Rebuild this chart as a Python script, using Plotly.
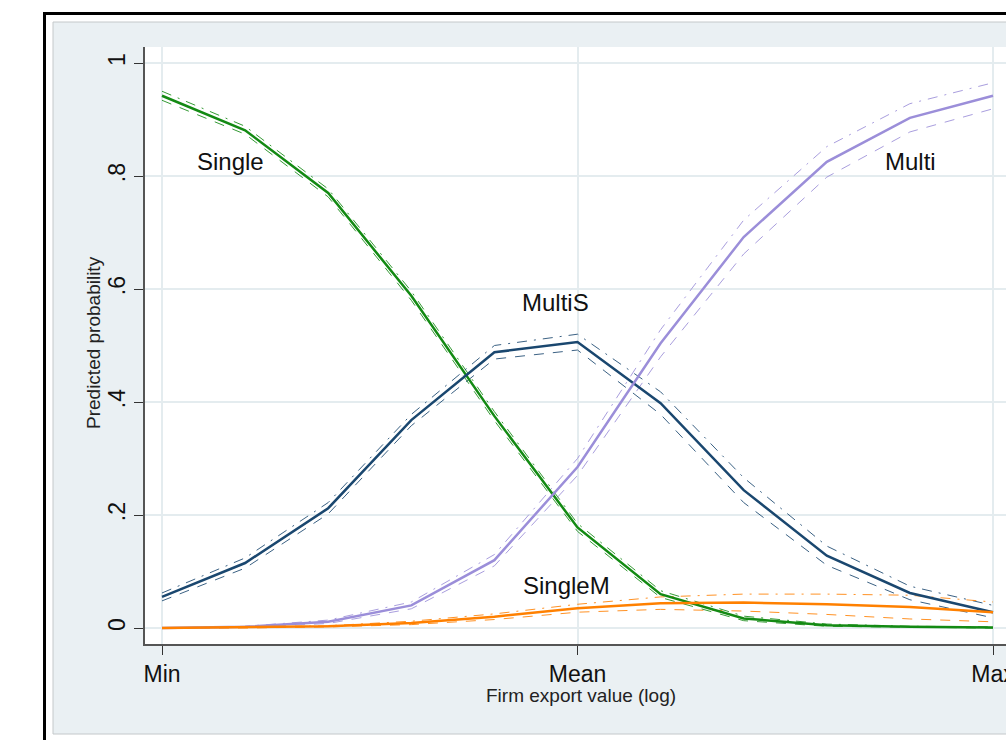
import plotly.graph_objects as go

# ---- data ----
x_vals = [0.0, 0.1, 0.2, 0.3, 0.4, 0.5, 0.6, 0.7, 0.8, 0.9, 1.0]
x_tick_vals = [0.0, 0.5, 1.0]
x_tick_text = ["Min", "Mean", "Max"]
y_tick_vals = [0, 0.2, 0.4, 0.6, 0.8, 1.0]
y_tick_text = ["0", ".2", ".4", ".6", ".8", "1"]

single = [0.942, 0.881, 0.770, 0.588, 0.375, 0.178, 0.060, 0.017, 0.005, 0.002, 0.001]
single_hi = [0.950, 0.888, 0.777, 0.596, 0.383, 0.185, 0.066, 0.021, 0.007, 0.003, 0.002]
single_lo = [0.934, 0.874, 0.763, 0.580, 0.367, 0.171, 0.054, 0.013, 0.003, 0.001, 0.000]

multis = [0.055, 0.115, 0.212, 0.368, 0.488, 0.506, 0.398, 0.244, 0.128, 0.062, 0.028]
multis_hi = [0.062, 0.124, 0.222, 0.378, 0.500, 0.520, 0.418, 0.266, 0.145, 0.074, 0.040]
multis_lo = [0.048, 0.106, 0.202, 0.358, 0.476, 0.492, 0.378, 0.222, 0.111, 0.050, 0.018]

multi = [0.000, 0.002, 0.011, 0.040, 0.120, 0.285, 0.504, 0.692, 0.825, 0.903, 0.942]
multi_hi = [0.000, 0.003, 0.014, 0.046, 0.130, 0.300, 0.528, 0.722, 0.852, 0.928, 0.965]
multi_lo = [0.000, 0.001, 0.008, 0.034, 0.110, 0.270, 0.480, 0.662, 0.798, 0.878, 0.919]

singlem = [0.000, 0.001, 0.003, 0.009, 0.020, 0.035, 0.044, 0.045, 0.042, 0.037, 0.028]
singlem_hi = [0.000, 0.001, 0.004, 0.012, 0.025, 0.042, 0.055, 0.060, 0.060, 0.058, 0.046]
singlem_lo = [0.000, 0.000, 0.002, 0.006, 0.015, 0.028, 0.033, 0.030, 0.024, 0.016, 0.011]

series = [
    ("Single", single, single_hi, single_lo, "#138a13"),
    ("MultiS", multis, multis_hi, multis_lo, "#1a476f"),
    ("Multi", multi, multi_hi, multi_lo, "#9b8ed9"),
    ("SingleM", singlem, singlem_hi, singlem_lo, "#ff8000"),
]

labels = [
    ("Single", 0.082, 0.826),
    ("Multi", 0.901, 0.826),
    ("MultiS", 0.473, 0.577),
    ("SingleM", 0.487, 0.076),
]

FONT = "Arial, Liberation Sans, sans-serif"

# ---- layout geometry (page pixels) ----
W, H = 1006, 740
L, T = 145, 47
B = H - 644
R = 0
pw, ph = W - L - R, H - T - B


def px(xp):
    return (xp - L) / pw


def py(yp):
    return (H - B - yp) / ph


fig = go.Figure()

for name, mid, hi, lo, col in series:
    fig.add_trace(go.Scatter(x=x_vals, y=hi, mode="lines", line=dict(color=col, width=1, dash="10px,7px,2px,7px"),
                             opacity=0.85, showlegend=False, hoverinfo="skip"))
    fig.add_trace(go.Scatter(x=x_vals, y=lo, mode="lines", line=dict(color=col, width=1, dash="10px,9px"),
                             opacity=0.85, showlegend=False, hoverinfo="skip"))
for name, mid, hi, lo, col in series:
    fig.add_trace(go.Scatter(x=x_vals, y=mid, mode="lines", line=dict(color=col, width=2.5),
                             name=name, showlegend=False))

for text, lx, ly in labels:
    fig.add_annotation(x=lx, y=ly, xref="x", yref="y", text=text, showarrow=False,
                       xanchor="center", yanchor="middle",
                       font=dict(size=24, color="#111111", family=FONT))

# axis titles
fig.add_annotation(x=px(581), y=py(695), xref="paper", yref="paper", text="Firm export value (log)",
                   xanchor="center", yanchor="middle", showarrow=False,
                   font=dict(size=19, color="#222222", family=FONT))
fig.add_annotation(x=px(93), y=py(343), xref="paper", yref="paper", text="Predicted probability",
                   xanchor="center", yanchor="middle", textangle=-90, showarrow=False,
                   font=dict(size=19, color="#222222", family=FONT))

# frame shapes: graph region (light), plot region (white), outer black border
fig.add_shape(type="rect", xref="paper", yref="paper", x0=px(53), x1=px(1200), y0=py(734), y1=py(22),
              fillcolor="#eaf0f3", line=dict(color="#c4c8ca", width=1), layer="below")
fig.add_shape(type="rect", xref="paper", yref="paper", x0=0, x1=px(1200), y0=0, y1=1,
              fillcolor="#ffffff", line=dict(width=0), layer="below")
fig.add_shape(type="rect", xref="paper", yref="paper", x0=px(44.5), x1=px(1200), y0=py(900), y1=py(13.5),
              fillcolor="rgba(0,0,0,0)", line=dict(color="#000000", width=3), layer="below")

fig.update_layout(
    width=W, height=H,
    margin=dict(l=L, r=R, t=T, b=B, pad=0, autoexpand=False),
    paper_bgcolor="white",
    plot_bgcolor="white",
    font=dict(family=FONT, color="#111111"),
    showlegend=False,
)

fig.update_xaxes(
    range=[(145 - 162) / 831, (1006 - 162) / 831],
    tickvals=x_tick_vals, ticktext=x_tick_text,
    tickfont=dict(size=23, color="#111111"),
    ticklabeloverflow="allow", automargin=False,
    ticks="outside", ticklen=9, tickcolor="#333333", tickwidth=1,
    showgrid=True, gridcolor="#e4ecef", gridwidth=2,
    showline=True, linecolor="#555555", linewidth=1.5,
    zeroline=False,
)
fig.update_yaxes(
    range=[-(644 - 628) / 565, (628 - 47) / 565],
    tickvals=y_tick_vals, ticktext=y_tick_text,
    tickangle=-90,
    tickfont=dict(size=23, color="#111111"),
    ticklabeloverflow="allow", automargin=False,
    ticks="outside", ticklen=9, tickcolor="#333333", tickwidth=1,
    showgrid=True, gridcolor="#e4ecef", gridwidth=2,
    showline=True, linecolor="#555555", linewidth=1.5,
    zeroline=False,
)

page_js = ("document.body.style.margin='0px';"
           "document.body.style.padding='0px';"
           "document.documentElement.style.overflow='hidden';"
           "document.body.style.overflow='hidden';")

fig.write_html("out.html", post_script=page_js, config={"displayModeBar": False})
